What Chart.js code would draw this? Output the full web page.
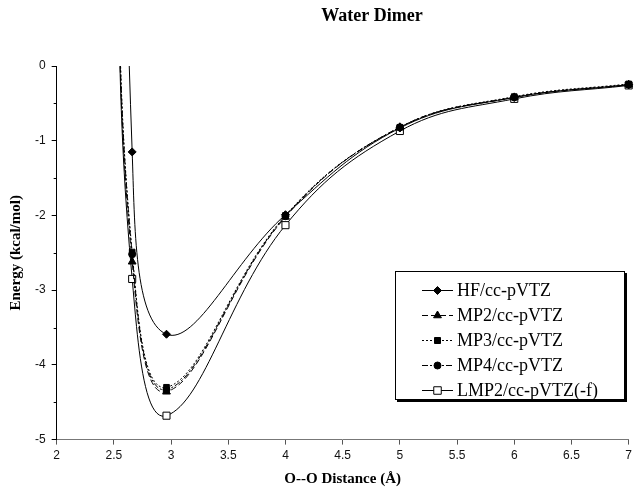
<!DOCTYPE html>
<html>
<head>
<meta charset="utf-8">
<script src="https://cdn.jsdelivr.net/npm/chart.js@4/dist/chart.umd.min.js"></script>
<style>
    html, body { margin: 0; padding: 0; background: #fff; }
    #wrap { position: relative; width: 636px; height: 489px; }
    #legend {
        position: absolute; left: 395px; top: 271px; width: 230px; height: 129px;
        box-sizing: border-box; border: 1px solid #000; box-shadow: 2px 2px 0 #000;
        background: #fff; padding-top: 6px;
        font-family: 'Liberation Serif', 'Times New Roman', serif; font-size: 18px; color: #000;
    }
    #legend .row { height: 25px; display: flex; align-items: center; }
    #legend canvas { margin-left: 26px; margin-right: 4px; }
</style>
</head>
<body>
<div id="wrap">
    <canvas id="Dimer" width="636" height="489"></canvas>
    <div id="legend"></div>
</div>
<script>
// O--O distance (Angstrom); the 2.5 point lies above the plotted range
const distances = [2.5, 2.66, 2.96, 4.0, 5.0, 6.0, 7.0];
const seriesNames = ['HF/cc-pVTZ', 'MP2/cc-pVTZ', 'MP3/cc-pVTZ', 'MP4/cc-pVTZ', 'LMP2/cc-pVTZ(-f)'];
const hfValues   = [16.0, -1.15, -3.59, -1.99, -0.83, -0.42, -0.25];
const mp2Values  = [3.0, -2.62, -4.36, -2.02, -0.82, -0.42, -0.25];
const mp3Values  = [3.2, -2.49, -4.30, -2.00, -0.82, -0.41, -0.24];
const mp4Values  = [3.1, -2.52, -4.33, -2.01, -0.82, -0.42, -0.25];
const lmp2Values = [3.0, -2.85, -4.68, -2.13, -0.87, -0.44, -0.26];
const xTicks = [2, 2.5, 3, 3.5, 4, 4.5, 5, 5.5, 6, 6.5, 7];
const yTicks = [0, -1, -2, -3, -4, -5];

function toPoints(values){
    return values.map(function(v, i){ return {x: distances[i], y: v}; });
}

const styles = [
    {values: hfValues,   dash: [],           point: 'rectRot',  radius: 4,   fill: '#000'},
    {values: mp2Values,  dash: [6, 3],       point: 'triangle', radius: 4.5, fill: '#000'},
    {values: mp3Values,  dash: [2, 2],       point: 'rect',     radius: 4,   fill: '#000'},
    {values: mp4Values,  dash: [6, 2, 2, 2], point: 'circle',   radius: 3.5, fill: '#000'},
    {values: lmp2Values, dash: [],           point: 'rect',     radius: 5,   fill: '#fff'}
];

const datasets = styles.map(function(s, i){
    return {
        label: seriesNames[i],
        data: toPoints(s.values),
        borderColor: '#000',
        borderWidth: 1,
        borderDash: s.dash,
        pointStyle: s.point,
        pointRadius: s.radius,
        pointBackgroundColor: s.fill,
        pointBorderColor: '#000',
        pointBorderWidth: 1,
        tension: 0.4,
        clip: {left: 5, top: 0, right: 8, bottom: 5}
    };
});

// title drawn by hand, it sits right of the plot centre
const titlePlugin = {
    id: 'bookTitle',
    afterDraw(chart){
        const c = chart.ctx;
        c.save();
        c.font = 'bold 18px "Liberation Serif", serif';
        c.fillStyle = '#000';
        c.textAlign = 'center';
        c.textBaseline = 'middle';
        c.fillText('Water Dimer', 372, 16);
        c.restore();
    }
};

// small ticks at the half units of the energy axis
const minorTicks = {
    id: 'minorTicks',
    afterDraw(chart){
        const c = chart.ctx;
        const ys = chart.scales.y;
        c.save();
        c.strokeStyle = '#000';
        c.lineWidth = 1;
        for (var v = -4.5; v < 0; v += 1){
            const py = Math.round(ys.getPixelForValue(v)) + 0.5;
            c.beginPath();
            c.moveTo(ys.right - 3, py);
            c.lineTo(ys.right, py);
            c.stroke();
        }
        c.restore();
    }
};

const tickFont = {family: "'Liberation Sans', Arial, sans-serif", size: 12};
const axisFont = {family: "'Liberation Serif', 'Times New Roman', serif", size: 15, weight: 'bold'};

const ctx = document.getElementById('Dimer');
const myChart = new Chart(ctx, {
    type: 'line',
    data: {datasets: datasets},
    options: {
        responsive: false,
        animation: false,
        layout: {padding: {top: 66, left: 7, right: 0, bottom: 1}},
        scales: {
            x: {
                type: 'linear',
                min: 2, max: 7,
                afterBuildTicks: function(axis){ axis.ticks = xTicks.map(function(v){ return {value: v}; }); },
                ticks: {font: tickFont, color: '#111', padding: 4, maxRotation: 0,
                        callback: function(v){ return String(v); }},
                grid: {drawOnChartArea: false, drawTicks: true, tickLength: 5, color: '#555'},
                border: {color: '#777', width: 1},
                title: {display: true, text: 'O--O Distance (Å)', font: axisFont, color: '#000', padding: {top: 3, bottom: 0}}
            },
            y: {
                min: -5, max: 0,
                afterBuildTicks: function(axis){ axis.ticks = yTicks.map(function(v){ return {value: v}; }); },
                ticks: {font: tickFont, color: '#111', padding: 6,
                        callback: function(v){ return String(v); }},
                grid: {drawOnChartArea: false, drawTicks: true, tickLength: 5, color: '#000'},
                border: {color: '#000', width: 1},
                title: {display: true, text: 'Energy (kcal/mol)', font: axisFont, color: '#000', padding: {top: 0, bottom: 4}}
            }
        },
        plugins: {
            legend: {display: false},
            tooltip: {enabled: false}
        }
    },
    plugins: [titlePlugin, minorTicks]
});

// legend built from the chart's own datasets
function drawSample(canvas, ds){
    const c = canvas.getContext('2d');
    c.strokeStyle = '#000';
    c.lineWidth = 1;
    c.setLineDash(ds.borderDash);
    c.beginPath();
    c.moveTo(0, 7.5);
    c.lineTo(canvas.width, 7.5);
    c.stroke();
    c.setLineDash([]);
    const cx = canvas.width / 2, cy = 7.5, r = ds.pointRadius;
    c.fillStyle = ds.pointBackgroundColor;
    c.beginPath();
    if (ds.pointStyle == 'rectRot'){
        c.moveTo(cx, cy - r); c.lineTo(cx + r, cy); c.lineTo(cx, cy + r); c.lineTo(cx - r, cy);
    } else if (ds.pointStyle == 'triangle'){
        c.moveTo(cx, cy - r); c.lineTo(cx + r * 0.87, cy + r * 0.5); c.lineTo(cx - r * 0.87, cy + r * 0.5);
    } else if (ds.pointStyle == 'circle'){
        c.arc(cx, cy, r, 0, Math.PI * 2);
    } else {
        const h = r * 0.75;
        c.rect(cx - h, cy - h, h * 2, h * 2);
    }
    c.closePath();
    c.fill();
    c.stroke();
}

const legendBox = document.getElementById('legend');
myChart.data.datasets.forEach(function(ds){
    const row = document.createElement('div');
    row.className = 'row';
    const sample = document.createElement('canvas');
    sample.width = 31;
    sample.height = 15;
    drawSample(sample, ds);
    const text = document.createElement('span');
    text.textContent = ds.label;
    row.appendChild(sample);
    row.appendChild(text);
    legendBox.appendChild(row);
});
</script>
</body>
</html>
